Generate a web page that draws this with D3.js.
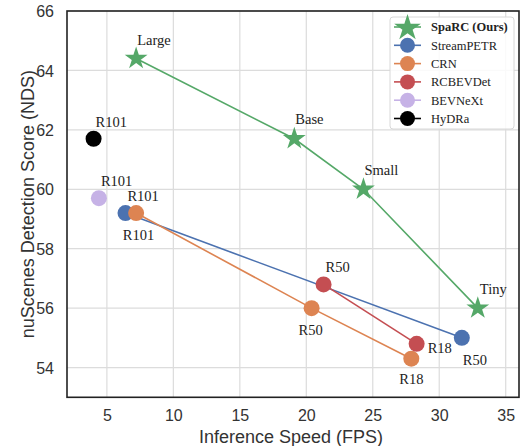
<!DOCTYPE html>
<html>
<head>
<meta charset="utf-8">
<script src="https://cdn.jsdelivr.net/npm/d3@7"></script>
<style>
  body { margin: 0; background: #fff; }
  svg { display: block; }
  .serif { font-family: "Liberation Serif", "Times New Roman", Times, "DejaVu Serif", serif; }
  .sans { font-family: "Liberation Sans", Arial, Helvetica, sans-serif; }
</style>
</head>
<body>
<svg id="chart" width="520" height="446"></svg>
<script>
// ---- data ----
var seriesNames = ["SpaRC (Ours)", "StreamPETR", "CRN", "RCBEVDet", "BEVNeXt", "HyDRa"];
var seriesColors = ["#55a868", "#4c72b0", "#dd8452", "#c44e52", "#c6b2e6", "#000000"];

var sparcFps = [7.2, 19.1, 24.3, 32.9];
var sparcNds = [64.4, 61.7, 60.0, 56.0];
var sparcLabels = ["Large", "Base", "Small", "Tiny"];

var streamFps = [6.4, 31.7];
var streamNds = [59.2, 55.0];
var streamLabels = ["R101", "R50"];

var crnFps = [7.2, 20.4, 27.9];
var crnNds = [59.2, 56.0, 54.3];
var crnLabels = ["R101", "R50", "R18"];

var rcbevFps = [21.3, 28.3];
var rcbevNds = [56.8, 54.8];
var rcbevLabels = ["R50", "R18"];

var bevnextFps = [4.4];
var bevnextNds = [59.7];
var bevnextLabels = ["R101"];

var hydraFps = [4.0];
var hydraNds = [61.7];
var hydraLabels = ["R101"];

var xTicks = [5, 10, 15, 20, 25, 30, 35];
var yTicks = [54, 56, 58, 60, 62, 64, 66];

// label placement (pixel offsets from the point, text-anchor)
var labelPlace = {
  "SpaRC (Ours)": [[1, -14, "start"], [1, -15, "start"], [1, -14, "start"], [2, -14, "start"]],
  "StreamPETR": [[13, 27, "middle"], [1, 27, "start"]],
  "CRN": [[7, -12, "middle"], [-1, 27, "middle"], [0, 25, "middle"]],
  "RCBEVDet": [[14, -12, "middle"], [11, 9, "start"]],
  "BEVNeXt": [[2, -12, "start"]],
  "HyDRa": [[2, -12, "start"]]
};

var series = [
  {name: seriesNames[0], x: sparcFps, y: sparcNds, labels: sparcLabels, star: true, line: true},
  {name: seriesNames[1], x: streamFps, y: streamNds, labels: streamLabels, line: true},
  {name: seriesNames[2], x: crnFps, y: crnNds, labels: crnLabels, line: true},
  {name: seriesNames[3], x: rcbevFps, y: rcbevNds, labels: rcbevLabels, line: true},
  {name: seriesNames[4], x: bevnextFps, y: bevnextNds, labels: bevnextLabels, line: false},
  {name: seriesNames[5], x: hydraFps, y: hydraNds, labels: hydraLabels, line: false}
];
series.forEach(function(s, i) { s.color = seriesColors[i]; });

// ---- layout ----
var svg = d3.select("#chart"),
    MARGINS = {top: 11, right: 1, bottom: 49, left: 67},
    WIDTH = 520,
    HEIGHT = 446;

var xScale = d3.scaleLinear().domain([2, 36]).range([MARGINS.left, WIDTH - MARGINS.right]);
var yScale = d3.scaleLinear().domain([53, 66]).range([HEIGHT - MARGINS.bottom + 0.3, MARGINS.top]);

function starPath(r) {
  var pts = [], inner = r * 0.382;
  for (var k = 0; k < 10; k++) {
    var a = -Math.PI / 2 + k * Math.PI / 5;
    var rr = k % 2 === 0 ? r : inner;
    pts.push([rr * Math.cos(a), rr * Math.sin(a)]);
  }
  return "M" + pts.map(function(p) { return p[0].toFixed(2) + "," + p[1].toFixed(2); }).join("L") + "Z";
}

// grid
var grid = svg.append("g");
grid.selectAll(".gx").data(xTicks).enter().append("line")
  .attr("x1", function(d) { return xScale(d); }).attr("x2", function(d) { return xScale(d); })
  .attr("y1", yScale.range()[0]).attr("y2", yScale.range()[1])
  .attr("stroke", "#dcdcdc").attr("stroke-width", 1.2);
grid.selectAll(".gy").data(yTicks).enter().append("line")
  .attr("y1", function(d) { return yScale(d); }).attr("y2", function(d) { return yScale(d); })
  .attr("x1", xScale.range()[0]).attr("x2", xScale.range()[1])
  .attr("stroke", "#dcdcdc").attr("stroke-width", 1.2);

// axes
var xAxis = d3.axisBottom(xScale).tickValues(xTicks).tickSize(0).tickPadding(12);
var yAxis = d3.axisLeft(yScale).tickValues(yTicks).tickSize(0).tickPadding(13);

var gx = svg.append("g")
  .attr("transform", "translate(0," + yScale.range()[0] + ")")
  .call(xAxis);
gx.attr("font-family", null).attr("font-size", null);
gx.select(".domain").remove();
gx.selectAll("text").attr("class", "sans").attr("font-size", 16).attr("fill", "#333");

var gy = svg.append("g")
  .attr("transform", "translate(" + MARGINS.left + ",0)")
  .call(yAxis);
gy.attr("font-family", null).attr("font-size", null);
gy.select(".domain").remove();
gy.selectAll("text").attr("class", "sans").attr("font-size", 16).attr("fill", "#333").attr("dy", "0.35em");

svg.append("text")
  .attr("class", "sans")
  .attr("x", (xScale.range()[0] + xScale.range()[1]) / 2 - 2)
  .attr("y", 443)
  .attr("text-anchor", "middle")
  .attr("font-size", 18).attr("fill", "#333")
  .text("Inference Speed (FPS)");

svg.append("text")
  .attr("class", "sans")
  .attr("transform", "translate(34," + (yScale.range()[0] + yScale.range()[1]) / 2 + ") rotate(-90)")
  .attr("text-anchor", "middle")
  .attr("font-size", 18).attr("fill", "#333")
  .text("nuScenes Detection Score (NDS)");

// lines
var lineGen = d3.line()
  .x(function(d) { return xScale(d[0]); })
  .y(function(d) { return yScale(d[1]); });

series.forEach(function(s) {
  if (!s.line) return;
  var pts = s.x.map(function(v, i) { return [v, s.y[i]]; });
  svg.append("path")
    .attr("d", lineGen(pts))
    .attr("fill", "none")
    .attr("stroke", s.color)
    .attr("stroke-width", 1.6);
});

// markers (StreamPETR sits under CRN as in the figure)
var drawOrder = [4, 5, 1, 2, 3, 0];
drawOrder.forEach(function(idx) {
  var s = series[idx];
  s.x.forEach(function(v, i) {
    if (s.star) {
      svg.append("path")
        .attr("d", starPath(12))
        .attr("transform", "translate(" + xScale(v) + "," + yScale(s.y[i]) + ")")
        .attr("fill", s.color);
    } else {
      svg.append("circle")
        .attr("cx", xScale(v)).attr("cy", yScale(s.y[i]))
        .attr("r", 8)
        .attr("fill", s.color);
    }
  });
});

// point labels
series.forEach(function(s) {
  s.labels.forEach(function(lab, i) {
    var p = labelPlace[s.name][i];
    svg.append("text")
      .attr("class", "serif")
      .attr("x", xScale(s.x[i]) + p[0])
      .attr("y", yScale(s.y[i]) + p[1])
      .attr("text-anchor", p[2])
      .attr("font-size", 14.5).attr("fill", "#222")
      .text(lab);
  });
});

// frame
svg.append("rect")
  .attr("x", xScale.range()[0]).attr("y", yScale.range()[1])
  .attr("width", xScale.range()[1] - xScale.range()[0])
  .attr("height", yScale.range()[0] - yScale.range()[1])
  .attr("fill", "none").attr("stroke", "#222").attr("stroke-width", 1.6);

// legend
var lg = svg.append("g").attr("transform", "translate(390,17)");
lg.append("rect")
  .attr("width", 124).attr("height", 112).attr("rx", 3)
  .attr("fill", "#fff").attr("fill-opacity", 0.85)
  .attr("stroke", "#d8d8d8").attr("stroke-width", 1);

series.forEach(function(s, i) {
  var y = 10 + i * 18.3;
  var row = lg.append("g").attr("transform", "translate(0," + y + ")");
  row.append("line").attr("x1", 4).attr("x2", 31).attr("y1", 0).attr("y2", 0)
    .attr("stroke", s.color).attr("stroke-width", 1.6);
  if (s.star) {
    row.append("path").attr("d", starPath(14)).attr("transform", "translate(17.5,1)").attr("fill", s.color);
  } else {
    row.append("circle").attr("cx", 17.5).attr("cy", 0).attr("r", 7.5).attr("fill", s.color);
  }
  row.append("text")
    .attr("class", "serif")
    .attr("x", 41).attr("y", 0).attr("dy", "0.35em")
    .attr("font-size", 12.5).attr("fill", "#222")
    .attr("font-weight", s.star ? "bold" : "normal")
    .text(s.name);
});
</script>
</body>
</html>
